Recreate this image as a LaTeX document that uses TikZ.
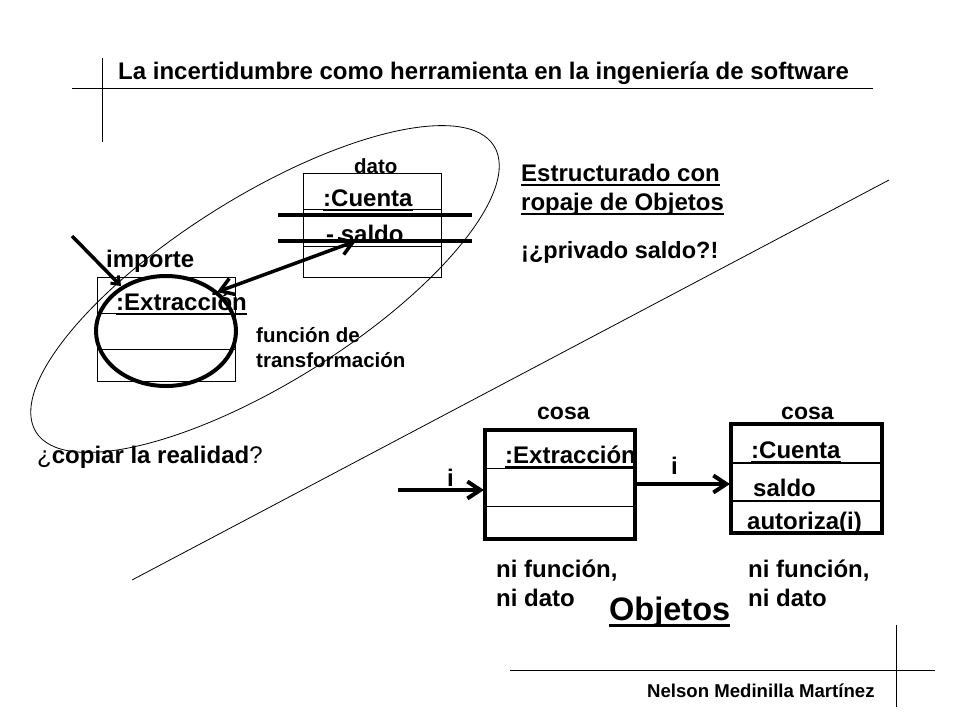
\documentclass[tikz,border=0pt]{standalone}
\usepackage{fontspec}
\setmainfont{Liberation Sans}
\usepackage{tikz}
\usetikzlibrary{arrows.meta}
\newcommand{\subr}[1]{\setbox0=\hbox{#1}\leavevmode\rlap{\rule[-0.2em]{\wd0}{0.09em}}\box0}
\tikzset{lbl/.style={anchor=base west,inner sep=0pt,font=\bfseries\fontsize{#1}{#1}\selectfont}}
\tikzset{box/.style={draw=black,line width=0.8pt}}
\tikzset{boldbox/.style={draw=black,line width=4pt}}
\tikzset{barb/.tip={Straight Barb[length=13pt,width=17pt,line width=3.5pt]}}
\tikzset{msg/.style={line width=4pt,-{Straight Barb[length=13pt,width=17pt,line width=4pt]}}}
\begin{document}
\begin{tikzpicture}[x=1pt, y=-1pt]
    \useasboundingbox (0, 0) rectangle (960, 720);
    \coordinate (CUL) at (303, 173);
    \coordinate (CUR) at (441, 277);
    \coordinate (EXL) at (97, 277);
    \coordinate (EXR) at (235, 381);
    \coordinate (OEL) at (485, 430);
    \coordinate (OER) at (635, 539);
    \coordinate (OCL) at (731, 424);
    \coordinate (OCR) at (882, 533);

    % marcos de la lamina
    \draw [line width=0.8pt] (102, 58) to (102, 142);
    \draw [line width=0.8pt] (72, 88) to (873, 88);
    \draw [line width=0.8pt] (896, 625) to (896, 707);
    \draw [line width=0.8pt] (510, 670) to (935, 670);
    \draw [line width=0.8pt] (132, 580) to (889, 180);

    \draw [line width=0.8pt, rotate around={32:(265, 289)}] (265, 289) ellipse [x radius=270, y radius=93];

    % estructurado
    \draw [box] (CUL) rectangle (CUR);
    \draw [box] (303, 209) to (441, 209);
    \draw [box] (303, 246) to (441, 246);
    \draw [box] (EXL) rectangle (EXR);
    \draw [box] (97, 313) to (235, 313);
    \draw [box] (97, 349) to (235, 349);
    \draw [line width=4pt] (278, 215) to (472, 215);
    \draw [line width=4pt] (278, 241) to (472, 241);
    \draw [line width=4pt] (166, 331) ellipse [x radius=70, y radius=55];

    \coordinate (IN) at (72, 236);
    \coordinate (INE) at (121, 286);
    \coordinate (DA) at (217, 292);
    \coordinate (DB) at (356, 241);
    \draw [line width=3.5pt, -{Straight Barb[length=7pt,width=11pt,line width=3pt]}] (IN) to (INE);
    \draw [line width=3.5pt, barb-barb] (DA) to (DB);

    % objetos
    \draw [boldbox] (OEL) rectangle (OER);
    \draw [box] (485, 468) to (635, 468);
    \draw [box] (485, 506) to (635, 506);
    \draw [boldbox] (OCL) rectangle (OCR);
    \draw [line width=1.5pt] (731, 463) to (882, 463);
    \draw [line width=1.5pt] (731, 501) to (882, 501);

    \coordinate (IA) at (398, 490);
    \coordinate (IB) at (484, 490);
    \coordinate (IC) at (635, 484);
    \coordinate (ID) at (730, 484);
    \draw [msg] (IA) to (IB);
    \draw [msg] (IC) to (ID);

    \node [lbl=24] (title) at (118, 79) {La incertidumbre como herramienta en la ingeniería de software};
    \node [lbl=20.5] (dato) at (354, 173) {dato};
    \node [lbl=24] (cuenta) at (323, 206) {\subr{:Cuenta}};
    \node [lbl=24] (saldo) at (326, 242) {- saldo};
    \node [lbl=24] (importe) at (106, 267) {importe};
    \node [lbl=24] (extr) at (116, 310) {\subr{:Extracción}};
    \node [lbl=20.5] (func) at (256, 342) {función de};
    \node [lbl=20.5] (trans) at (256, 367) {transformación};
    \node [lbl=24] (copiar) at (37, 463) {\textmd{¿}copiar la realidad\textmd{?}};
    \node [lbl=24] (estr) at (521, 181) {\subr{Estructurado con}};
    \node [lbl=24] (ropaje) at (521, 210) {\subr{ropaje de Objetos}};
    \node [lbl=23.5] (priv) at (521, 258) {¡¿privado saldo?!};
    \node [lbl=23] (cosaa) at (537, 419) {cosa};
    \node [lbl=23] (cosab) at (781, 419) {cosa};
    \node [lbl=24] (oextr) at (505, 463) {\subr{:Extracción}};
    \node [lbl=24] (ocuenta) at (751, 458) {\subr{:Cuenta}};
    \node [lbl=24] (osaldo) at (753, 496) {saldo};
    \node [lbl=24] (oaut) at (747, 529) {autoriza(i)};
    \node [lbl=24] (ia) at (447, 486) {i};
    \node [lbl=24] (ib) at (671, 474) {i};
    \node [lbl=24] (nia) at (496, 577) {ni función,};
    \node [lbl=24] (nib) at (496, 606) {ni dato};
    \node [lbl=24] (nic) at (748, 577) {ni función,};
    \node [lbl=24] (nid) at (748, 606) {ni dato};
    \node [lbl=32.5] (obj) at (609, 620) {\subr{Objetos}};
    \node [lbl=18.6] (autor) at (647, 697) {Nelson Medinilla Martínez};
\end{tikzpicture}
\end{document}
